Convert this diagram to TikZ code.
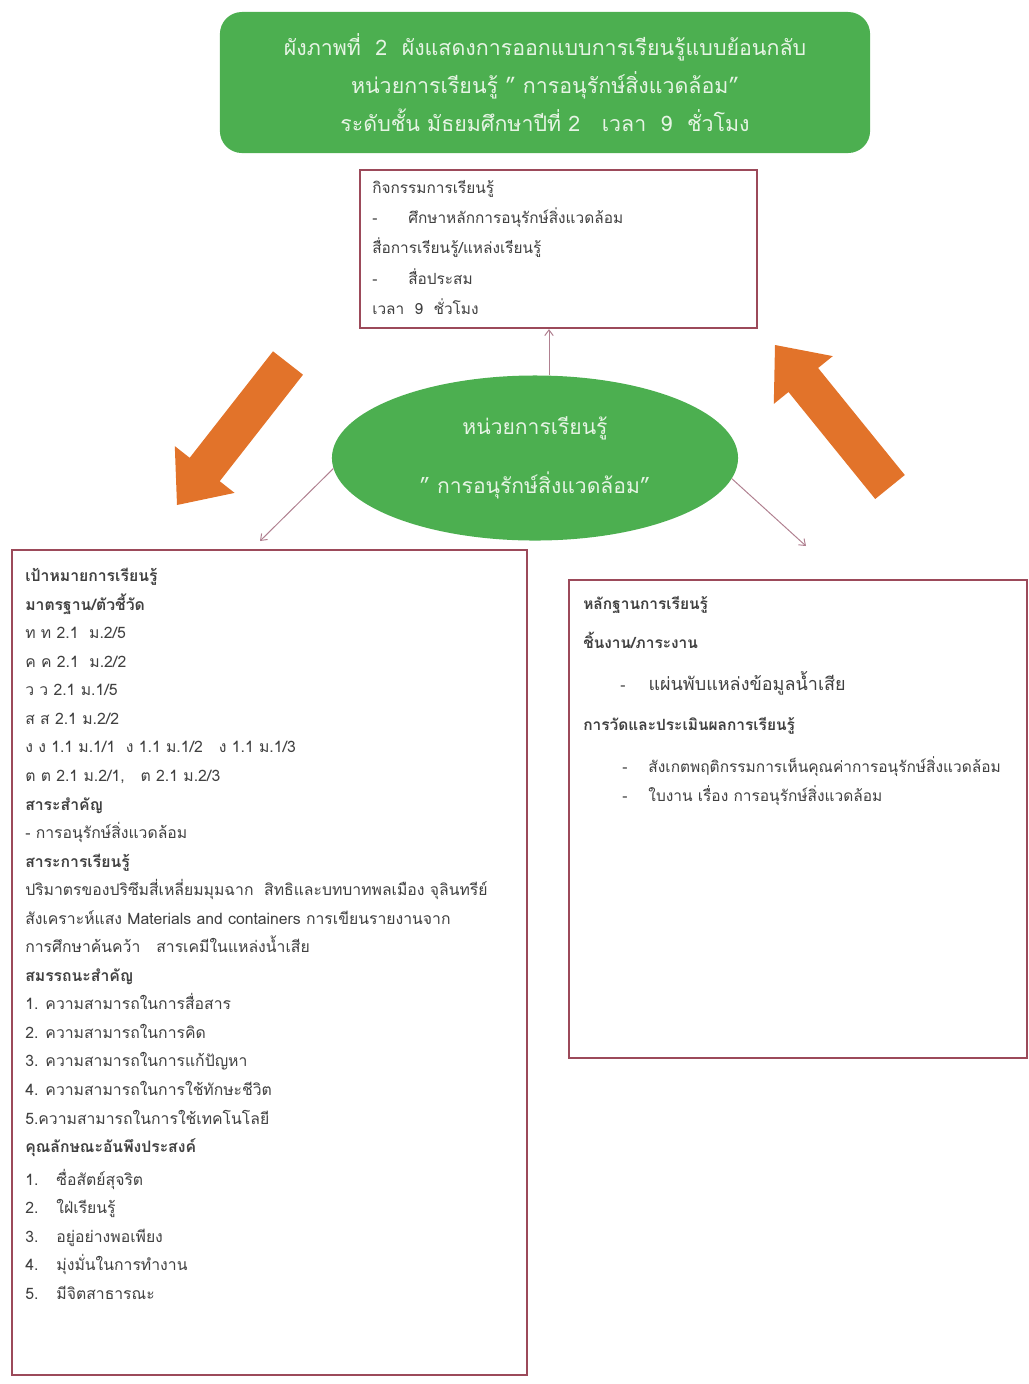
\documentclass[tikz,border=0pt]{standalone}
\usepackage{fontspec}
\setmainfont[Script=Thai]{Loma}
\usepackage{xcolor}
\definecolor{udgreen}{HTML}{4CAF50}
\definecolor{udpale}{HTML}{E6F4E4}
\definecolor{udmaroon}{HTML}{9C4A5A}
\definecolor{udline}{HTML}{B08090}
\definecolor{udorange}{HTML}{E2732A}
\definecolor{udtext}{HTML}{404040}
\usepackage{tikz}
\usetikzlibrary{arrows.meta, positioning, shapes.geometric, calc}
\newcommand{\dashitem}[1]{\makebox[0.9cm][l]{-}#1}
\newcommand{\numitem}[2]{\makebox[0.78cm][l]{#1}#2}

\begin{document}
\begin{tikzpicture}[
  x=0.025cm, y=-0.025cm,
  banner/.style={rectangle, rounded corners=0.55cm, fill=udgreen,
    minimum width=16.25cm, minimum height=3.525cm,
    align=center, text=udpale,
    font=\fontsize{15.2}{27}\selectfont},
  frame/.style={rectangle, draw=udmaroon, line width=1.6pt, fill=white},
  body/.style={align=left, text=udtext, inner sep=0pt},
  unitnode/.style={ellipse, fill=udgreen, inner sep=0pt,
    minimum width=10.15cm, minimum height=4.125cm,
    align=center, text=udpale,
    font=\fontsize{15}{42}\selectfont},
  arr/.style={-{Straight Barb[length=4pt, width=6pt]}, line width=0.7pt, color=udline},
  bigarr/.style={fill=udorange}
]
  \useasboundingbox (0,0) rectangle (1029,1384);

  % title
  \node[banner] (title) at (545,82.5)
    {ผังภาพที่ \ 2 \ ผังแสดงการออกแบบการเรียนรู้แบบย้อนกลับ\\
     หน่วยการเรียนรู้ " การอนุรักษ์สิ่งแวดล้อม"\\
     ระดับชั้น มัธยมศึกษาปีที่ 2 \ \ เวลา \ 9 \ ชั่วโมง};

  % activities
  \node[frame, minimum width=9.925cm, minimum height=3.95cm] (activity) at (558.5,249) {};
  \node[body, anchor=north west, font=\fontsize{10.95}{21.5}\selectfont]
    (activitytext) at (372,180)
    {กิจกรรมการเรียนรู้\\
     \dashitem{ศึกษาหลักการอนุรักษ์สิ่งแวดล้อม}\\
     สื่อการเรียนรู้/แหล่งเรียนรู้\\
     \dashitem{สื่อประสม}\\
     เวลา \ 9 \ ชั่วโมง};

  % unit
  \node[unitnode] (unit) at (535,458)
    {หน่วยการเรียนรู้\\ " การอนุรักษ์สิ่งแวดล้อม"};

  % goals
  \node[frame, minimum width=12.875cm, minimum height=20.625cm] (goals) at (269.5,962.5) {};
  \node[body, anchor=north west, font=\fontsize{11.2}{20.3}\selectfont]
    (goalstext) at (25,568)
    {\textbf{เป้าหมายการเรียนรู้}\\
     \textbf{มาตรฐาน/ตัวชี้วัด}\\
     ท ท 2.1 \ ม.2/5\\
     ค ค 2.1 \ ม.2/2\\
     ว ว 2.1 ม.1/5\\
     ส ส 2.1 ม.2/2\\
     ง ง 1.1 ม.1/1 \ ง 1.1 ม.1/2 \ \ ง 1.1 ม.1/3\\
     ต ต 2.1 ม.2/1, \ \ ต 2.1 ม.2/3\\
     \textbf{สาระสำคัญ}\\
     - การอนุรักษ์สิ่งแวดล้อม\\
     \textbf{สาระการเรียนรู้}\\
     ปริมาตรของปริซึมสี่เหลี่ยมมุมฉาก \ สิทธิและบทบาทพลเมือง จุลินทรีย์\\
     สังเคราะห์แสง Materials and containers การเขียนรายงานจาก\\
     การศึกษาค้นคว้า \ \ สารเคมีในแหล่งน้ำเสีย\\
     \textbf{สมรรถนะสำคัญ}\\
     1. ความสามารถในการสื่อสาร\\
     2. ความสามารถในการคิด\\
     3. ความสามารถในการแก้ปัญหา\\
     4. ความสามารถในการใช้ทักษะชีวิต\\
     5.ความสามารถในการใช้เทคโนโลยี\\
     \textbf{คุณลักษณะอันพึงประสงค์}\\[3pt]
     \numitem{1.}{ซื่อสัตย์สุจริต}\\
     \numitem{2.}{ใฝ่เรียนรู้}\\
     \numitem{3.}{อยู่อย่างพอเพียง}\\
     \numitem{4.}{มุ่งมั่นในการทำงาน}\\
     \numitem{5.}{มีจิตสาธารณะ}};

  % evidence
  \node[frame, minimum width=11.45cm, minimum height=11.95cm] (evidence) at (798,819) {};
  \node[body, anchor=north west, font=\fontsize{11}{20}\selectfont]
    (evidencetext) at (583,596)
    {\textbf{หลักฐานการเรียนรู้}\\[7.8pt]
     \textbf{ชิ้นงาน/ภาระงาน}\\[10pt]
     \hspace{0.93cm}\makebox[0.7cm][l]{-}{\fontsize{12.8}{20}\selectfont แผ่นพับแหล่งข้อมูลน้ำเสีย}\\[8.5pt]
     \textbf{การวัดและประเมินผลการเรียนรู้}\\[10pt]
     \hspace{0.98cm}\makebox[0.65cm][l]{-}สังเกตพฤติกรรมการเห็นคุณค่าการอนุรักษ์สิ่งแวดล้อม\\
     \hspace{0.98cm}\makebox[0.65cm][l]{-}ใบงาน เรื่อง การอนุรักษ์สิ่งแวดล้อม};

  % connectors
  \coordinate (goalsin) at (260,541);
  \coordinate (evidencein) at (806,546);
  \draw[arr] ([xshift=0.35cm]unit.north) -- ([xshift=0.35cm]unit.north |- activity.south);
  \draw[arr] (unit.183) -- (goalsin);
  \draw[arr] (unit.354) -- (evidencein);

  % big arrows
  \fill[bigarr] (303,374.7) -- (273,351.3) -- (189.7,457.8) -- (174.8,446.1)
    -- (177,505) -- (234.6,492.9) -- (219.7,481.2) -- cycle;
  \fill[bigarr] (904.8,475) -- (875.2,499) -- (788.5,392) -- (773.8,403.9)
    -- (775,345) -- (832.8,356.1) -- (818.1,368) -- cycle;
\end{tikzpicture}
\end{document}
